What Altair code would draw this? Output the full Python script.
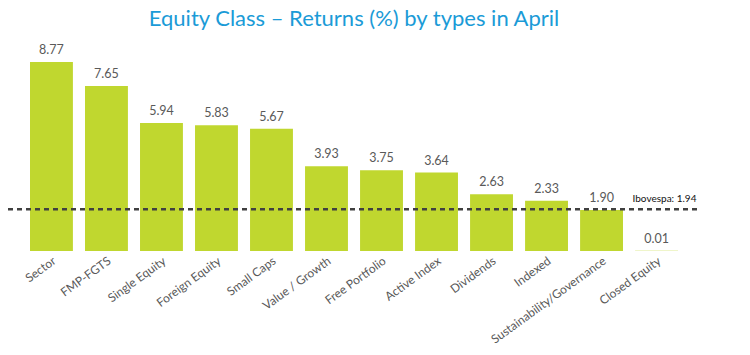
import altair as alt
import pandas as pd

categories = ["Sector", "FMP-FGTS", "Single Equity", "Foreign Equity", "Small Caps",
              "Value / Growth", "Free Portfolio", "Active Index", "Dividends", "Indexed",
              "Sustainability/Governance", "Closed Equity"]
returns = [8.77, 7.65, 5.94, 5.83, 5.67, 3.93, 3.75, 3.64, 2.63, 2.33, 1.90, 0.01]
benchmark_name = "Ibovespa"
benchmark_value = 1.94

df = pd.DataFrame({"cat": categories, "ret": returns,
                   "label": [f"{v:.2f}" for v in returns]})
bench = pd.DataFrame({"y": [benchmark_value],
                      "cat": [categories[-1]],
                      "label": [f"{benchmark_name}: {benchmark_value:.2f}"]})

xenc = alt.X("cat:N", sort=categories,
             scale=alt.Scale(paddingInner=0.22, paddingOuter=0.4),
             axis=alt.Axis(title=None, labelAngle=-36, labelAlign="right",
                           labelBaseline="top", labelColor="#595959",
                           labelFont="Lato", labelFontSize=12, ticks=False,
                           domain=False, labelPadding=4, labelOverlap=False,
                           labelLimit=0))
yscale = alt.Scale(domain=[0, 9.79], nice=False, zero=True)

bars = alt.Chart(df).mark_bar(color="#c0d72f").encode(
    x=xenc,
    y=alt.Y("ret:Q", scale=yscale, axis=None),
)

labels = alt.Chart(df).mark_text(baseline="bottom", dy=-5, color="#595959",
                                 font="Lato", fontSize=12.5).encode(
    x=alt.X("cat:N", sort=categories),
    y=alt.Y("ret:Q", scale=yscale),
    text="label:N",
)

rule = alt.Chart(bench).mark_rule(color="#404040", strokeWidth=2.5,
                                  strokeDash=[5, 4]).encode(
    y=alt.Y("y:Q", scale=yscale),
    x=alt.value(0), x2=alt.value(692),
)

bench_text = alt.Chart(bench).mark_text(align="left", baseline="bottom",
                                        dx=-24, dy=-5, color="#111111",
                                        font="Lato", fontSize=10).encode(
    x=alt.X("cat:N", sort=categories),
    y=alt.Y("y:Q", scale=yscale),
    text="label:N",
)

chart = alt.layer(bars, labels, rule, bench_text).properties(
    width=692, height=211,
    title=alt.TitleParams("Equity Class – Returns (%) by types in April",
                          color="#1b9bd7", font="Lato", fontSize=22,
                          fontWeight="normal", anchor="middle", offset=9),
    autosize=alt.AutoSizeParams(type="none"),
    padding={"left": 0, "top": 32, "right": 42, "bottom": 96},
).configure_view(stroke=None)

chart.save("out.html", embed_options={"renderer": "svg", "actions": False})
